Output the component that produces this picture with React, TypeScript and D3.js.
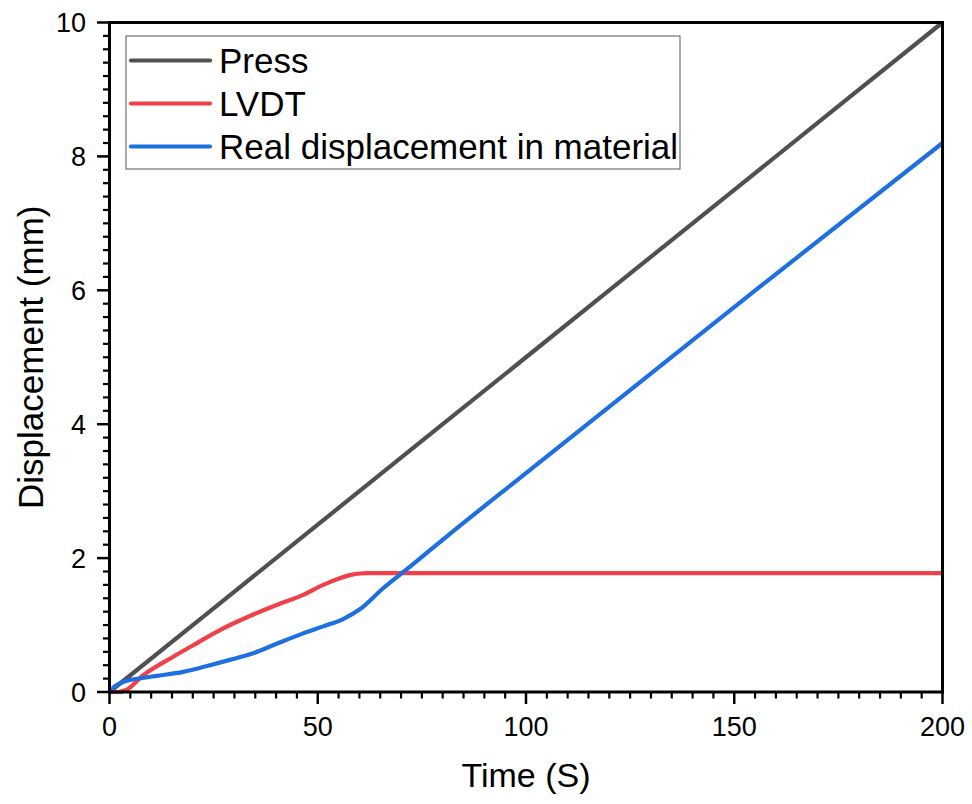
import React from "react";
import * as d3 from "d3";

const pressT = [0, 50, 100, 150, 200];
const pressV = [0, 2.5, 5, 7.5, 10];

const lvdtT = [0, 2, 4, 8.1, 15.3, 20.9, 27.3, 33.7, 40.1, 46.5, 51.3, 55.3, 58, 60.1, 62, 80, 120, 160, 200];
const lvdtV = [0, 0, 0.03, 0.25, 0.527, 0.727, 0.95, 1.135, 1.3, 1.45, 1.6, 1.7, 1.75, 1.77, 1.775, 1.775, 1.775, 1.775, 1.775];

const realT = [0, 1, 2.5, 4.9, 8, 11.3, 17.7, 24.1, 28.9, 34.5, 40.1, 46.5, 51.3, 56.1, 60.1, 65.7, 72.1, 80.5, 100, 125, 156.1, 200];
const realV = [0, 0.07, 0.13, 0.18, 0.21, 0.24, 0.3, 0.4, 0.48, 0.58, 0.72, 0.876, 0.98, 1.09, 1.235, 1.55, 1.87, 2.3, 3.27, 4.51, 6.05, 8.2];

const seriesNames = ["Press", "LVDT", "Real displacement in material"];
const seriesColors = ["#505050", "#F0414A", "#1E6FDF"];

const xTicks = [0, 50, 100, 150, 200];
const yTicks = [0, 2, 4, 6, 8, 10];
const xTitle = "Time (S)";
const yTitle = "Displacement (mm)";

const W = 972;
const H = 804;
const FONT = "'Liberation Sans', Arial, sans-serif";

export default function App() {
  const x = d3.scaleLinear().domain([0, 200]).range([109.5, 942.5]);
  const y = d3.scaleLinear().domain([0, 10]).range([692, 22.5]);

  const mk = (ts: number[], vs: number[]) =>
    d3
      .line<number>()
      .x((_, i) => x(ts[i]))
      .y((v) => y(v))
      .curve(d3.curveMonotoneX)(vs) as string;

  const series = [
    mk(pressT, pressV),
    mk(lvdtT, lvdtV),
    mk(realT, realV),
  ];

  const xMinor = d3.range(0, 201, 5).filter((v) => v % 50 !== 0);
  const yMinor = d3.range(0, 51, 1).map((v) => v * 0.2).filter((_, i) => i % 10 !== 0);

  const x0 = x(0), x1 = x(200), y0 = y(0), y1 = y(10);

  const legendRows = [60.5, 103.5, 146.5];

  return (
    <svg width={W} height={H} style={{ position: "absolute", left: 0, top: 0, display: "block", background: "#fff" }}>
      <rect x={0} y={0} width={W} height={H} fill="#fff" />
      <g fill="none" strokeWidth={4.2} strokeLinejoin="round" strokeLinecap="butt">
        <path d={series[0]} stroke={seriesColors[0]} />
        <path d={series[1]} stroke={seriesColors[1]} />
        <path d={series[2]} stroke={seriesColors[2]} />
      </g>
      <g stroke="#000" fill="none">
        <line x1={x0} x2={x1} y1={y1} y2={y1} strokeWidth={3} />
        <line x1={x1} x2={x1} y1={y1 - 1.5} y2={y0 + 1.5} strokeWidth={3} />
        <line x1={x0} x2={x1 + 1.5} y1={y0} y2={y0} strokeWidth={3} />
        <line x1={x0} x2={x0} y1={y1 - 1.5} y2={y0 + 1.5} strokeWidth={3} />
      </g>
      <g stroke="#000">
        {xTicks.map((t) => (
          <line key={"xt" + t} x1={x(t)} x2={x(t)} y1={y0} y2={y0 + 12} strokeWidth={2.5} />
        ))}
        {xMinor.map((t) => (
          <line key={"xm" + t} x1={x(t)} x2={x(t)} y1={y0} y2={y0 + 6.5} strokeWidth={2.2} />
        ))}
        {yTicks.map((t) => (
          <line key={"yt" + t} x1={x0 - 12.5} x2={x0} y1={y(t)} y2={y(t)} strokeWidth={2.5} />
        ))}
        {yMinor.map((t, i) => (
          <line key={"ym" + i} x1={x0 - 6.5} x2={x0} y1={y(t)} y2={y(t)} strokeWidth={2.2} />
        ))}
      </g>
      <g fontFamily={FONT} fontSize={27} fill="#000">
        {xTicks.map((t) => (
          <text key={"xl" + t} x={x(t)} y={736} textAnchor="middle">
            {t}
          </text>
        ))}
        {yTicks.map((t) => (
          <text key={"yl" + t} x={86} y={y(t) + 9.8} textAnchor="end">
            {t}
          </text>
        ))}
      </g>
      <text x={(x0 + x1) / 2} y={787} textAnchor="middle" fontFamily={FONT} fontSize={34} fill="#000">
        {xTitle}
      </text>
      <text
        transform={`translate(43,${(y0 + y1) / 2}) rotate(-90)`}
        textAnchor="middle"
        fontFamily={FONT}
        fontSize={35}
        fill="#000"
      >
        {yTitle}
      </text>
      <rect x={126} y={36} width={554} height={133} fill="#fff" stroke="#555" strokeWidth={1} />
      {seriesNames.map((n, i) => (
        <g key={n}>
          <line x1={131} x2={210} y1={legendRows[i]} y2={legendRows[i]} stroke={seriesColors[i]} strokeWidth={4.2} strokeLinecap="round" />
          <text x={219} y={legendRows[i] + 12.5} fontFamily={FONT} fontSize={35} fill="#000">
            {n}
          </text>
        </g>
      ))}
    </svg>
  );
}
